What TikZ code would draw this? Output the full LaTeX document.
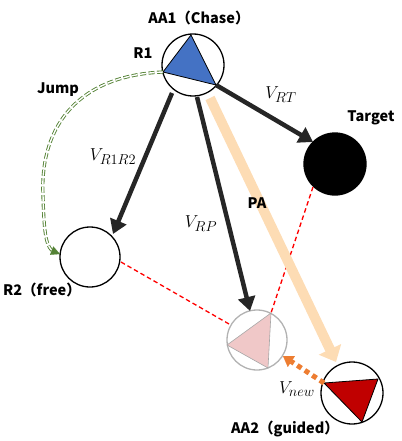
\documentclass[tikz,border=0pt]{standalone}
\usepackage{fontspec}
\setmainfont{Noto Sans CJK JP}
\usetikzlibrary{arrows.meta,calc}
\definecolor{jumpgreen}{RGB}{84,130,53}
\definecolor{darkline}{RGB}{38,38,38}
\definecolor{peach}{RGB}{253,220,180}
\definecolor{vorange}{RGB}{237,125,49}
\definecolor{aablue}{RGB}{68,114,196}
\definecolor{aared}{RGB}{192,0,0}
\definecolor{ghostpink}{RGB}{240,200,200}
\tikzset{
  agent/.style={circle, draw=black, line width=1.3pt, inner sep=0pt, minimum size=#1},
  vec/.style={draw=darkline, line width=4.5pt, -{Triangle[length=14pt,width=17pt]}},
  lab/.style={font=\bfseries\fontsize{14.5}{16}\selectfont, inner sep=0pt},
  mlab/.style={inner sep=0pt, font=\fontsize{19}{22}\selectfont},
  reddash/.style={draw=red, line width=1.3pt, dash pattern=on 4.5pt off 3pt},
}
\begin{document}
\begin{tikzpicture}[x=1pt,y=-1pt]
\useasboundingbox (0,0) rectangle (401,441);
% agents
\node[agent=62pt] (r1) at (193,65) {};
\node[agent=60pt] (r2) at (90,257) {};
\node[agent=62pt, fill=black] (tg) at (335,164) {};
\node[agent=60pt, draw=gray!60] (pp) at (257,340) {};
\node[agent=62pt] (aa2) at (352,393) {};
% triangles
\coordinate (b1) at (191,35); \coordinate (b2) at (163,72); \coordinate (b3) at (216,85);
\filldraw[fill=aablue, draw=black, line width=0.8pt] (b1) -- (b2) -- (b3) -- cycle;
\coordinate (p1) at (271,313); \coordinate (p2) at (227,345); \coordinate (p3) at (268,368);
\filldraw[fill=ghostpink, draw=gray!70, line width=0.6pt] (p1) -- (p2) -- (p3) -- cycle;
\coordinate (a1) at (324,383); \coordinate (a2) at (378,379); \coordinate (a3) at (362,422);
\filldraw[fill=aared, draw=black, line width=0.8pt] (a1) -- (a2) -- (a3) -- cycle;
% connector endpoints
\coordinate (s12) at (172,93); \coordinate (e12) at (113,234);
\coordinate (srp) at (197,97); \coordinate (erp) at (250,311);
\coordinate (ert) at (313,142);
\coordinate (spa) at (210,98); \coordinate (epa) at (336,362);
\coordinate (env) at (283,356);
\coordinate (r2e) at (121,262); \coordinate (ppw) at (229,324);
\coordinate (tgs) at (313,187);
\coordinate (js) at (163,72); \coordinate (je) at (60,254);
% red dashed
\draw[reddash] (r2e) -- (ppw);
\draw[reddash] (tgs) -- (p1);
% PA
\draw[draw=peach, line width=10pt, -{Triangle[length=14pt,width=24pt]}] (spa) -- (epa);
% vectors
\draw[vec] (s12) -- (e12);
\draw[vec] (srp) -- (erp);
\draw[vec] (b3) -- (ert);
% V_new dotted
\draw[draw=vorange, line width=5pt, dash pattern=on 5pt off 4pt] (a1) -- ($(a1)!0.8!(env)$);
\draw[draw=vorange, line width=0.1pt, -{Triangle[length=10pt,width=13pt]}, fill=vorange] ($(a1)!0.75!(env)$) -- (env);
% Jump
\draw[draw=jumpgreen, double=white, double distance=1.4pt, line width=0.9pt, dash pattern=on 6pt off 2.5pt]
  (js) .. controls (70,76) and (40,135) .. (43,195) .. controls (44,235) and (46,248) .. ($(je)+(-5,-1)$);
\draw[draw=jumpgreen, fill=jumpgreen, line width=0.1pt, -{Triangle[length=9pt,width=9pt]}] (50,250) -- (je);
% labels
\node[lab] (tAA1) at (199,18) {AA1（Chase）};
\node[lab] (tR1) at (143,53) {R1};
\node[lab] (tJ) at (58,90) {Jump};
\node[lab] (tR2) at (42,290) {R2（free）};
\node[lab] (tT) at (371,118) {Target};
\node[lab] (tPA) at (257,203) {PA};
\node[lab] (tAA2) at (285,429) {AA2（guided）};
\node[mlab] (vrt) at (281,95) {$V_{RT}$};
\node[mlab] (v12) at (113,157) {$V_{R1R2}$};
\node[mlab] (vrp) at (201,224) {$V_{RP}$};
\node[mlab] (vnew) at (297,389) {$V_{new}$};
\end{tikzpicture}
\end{document}
